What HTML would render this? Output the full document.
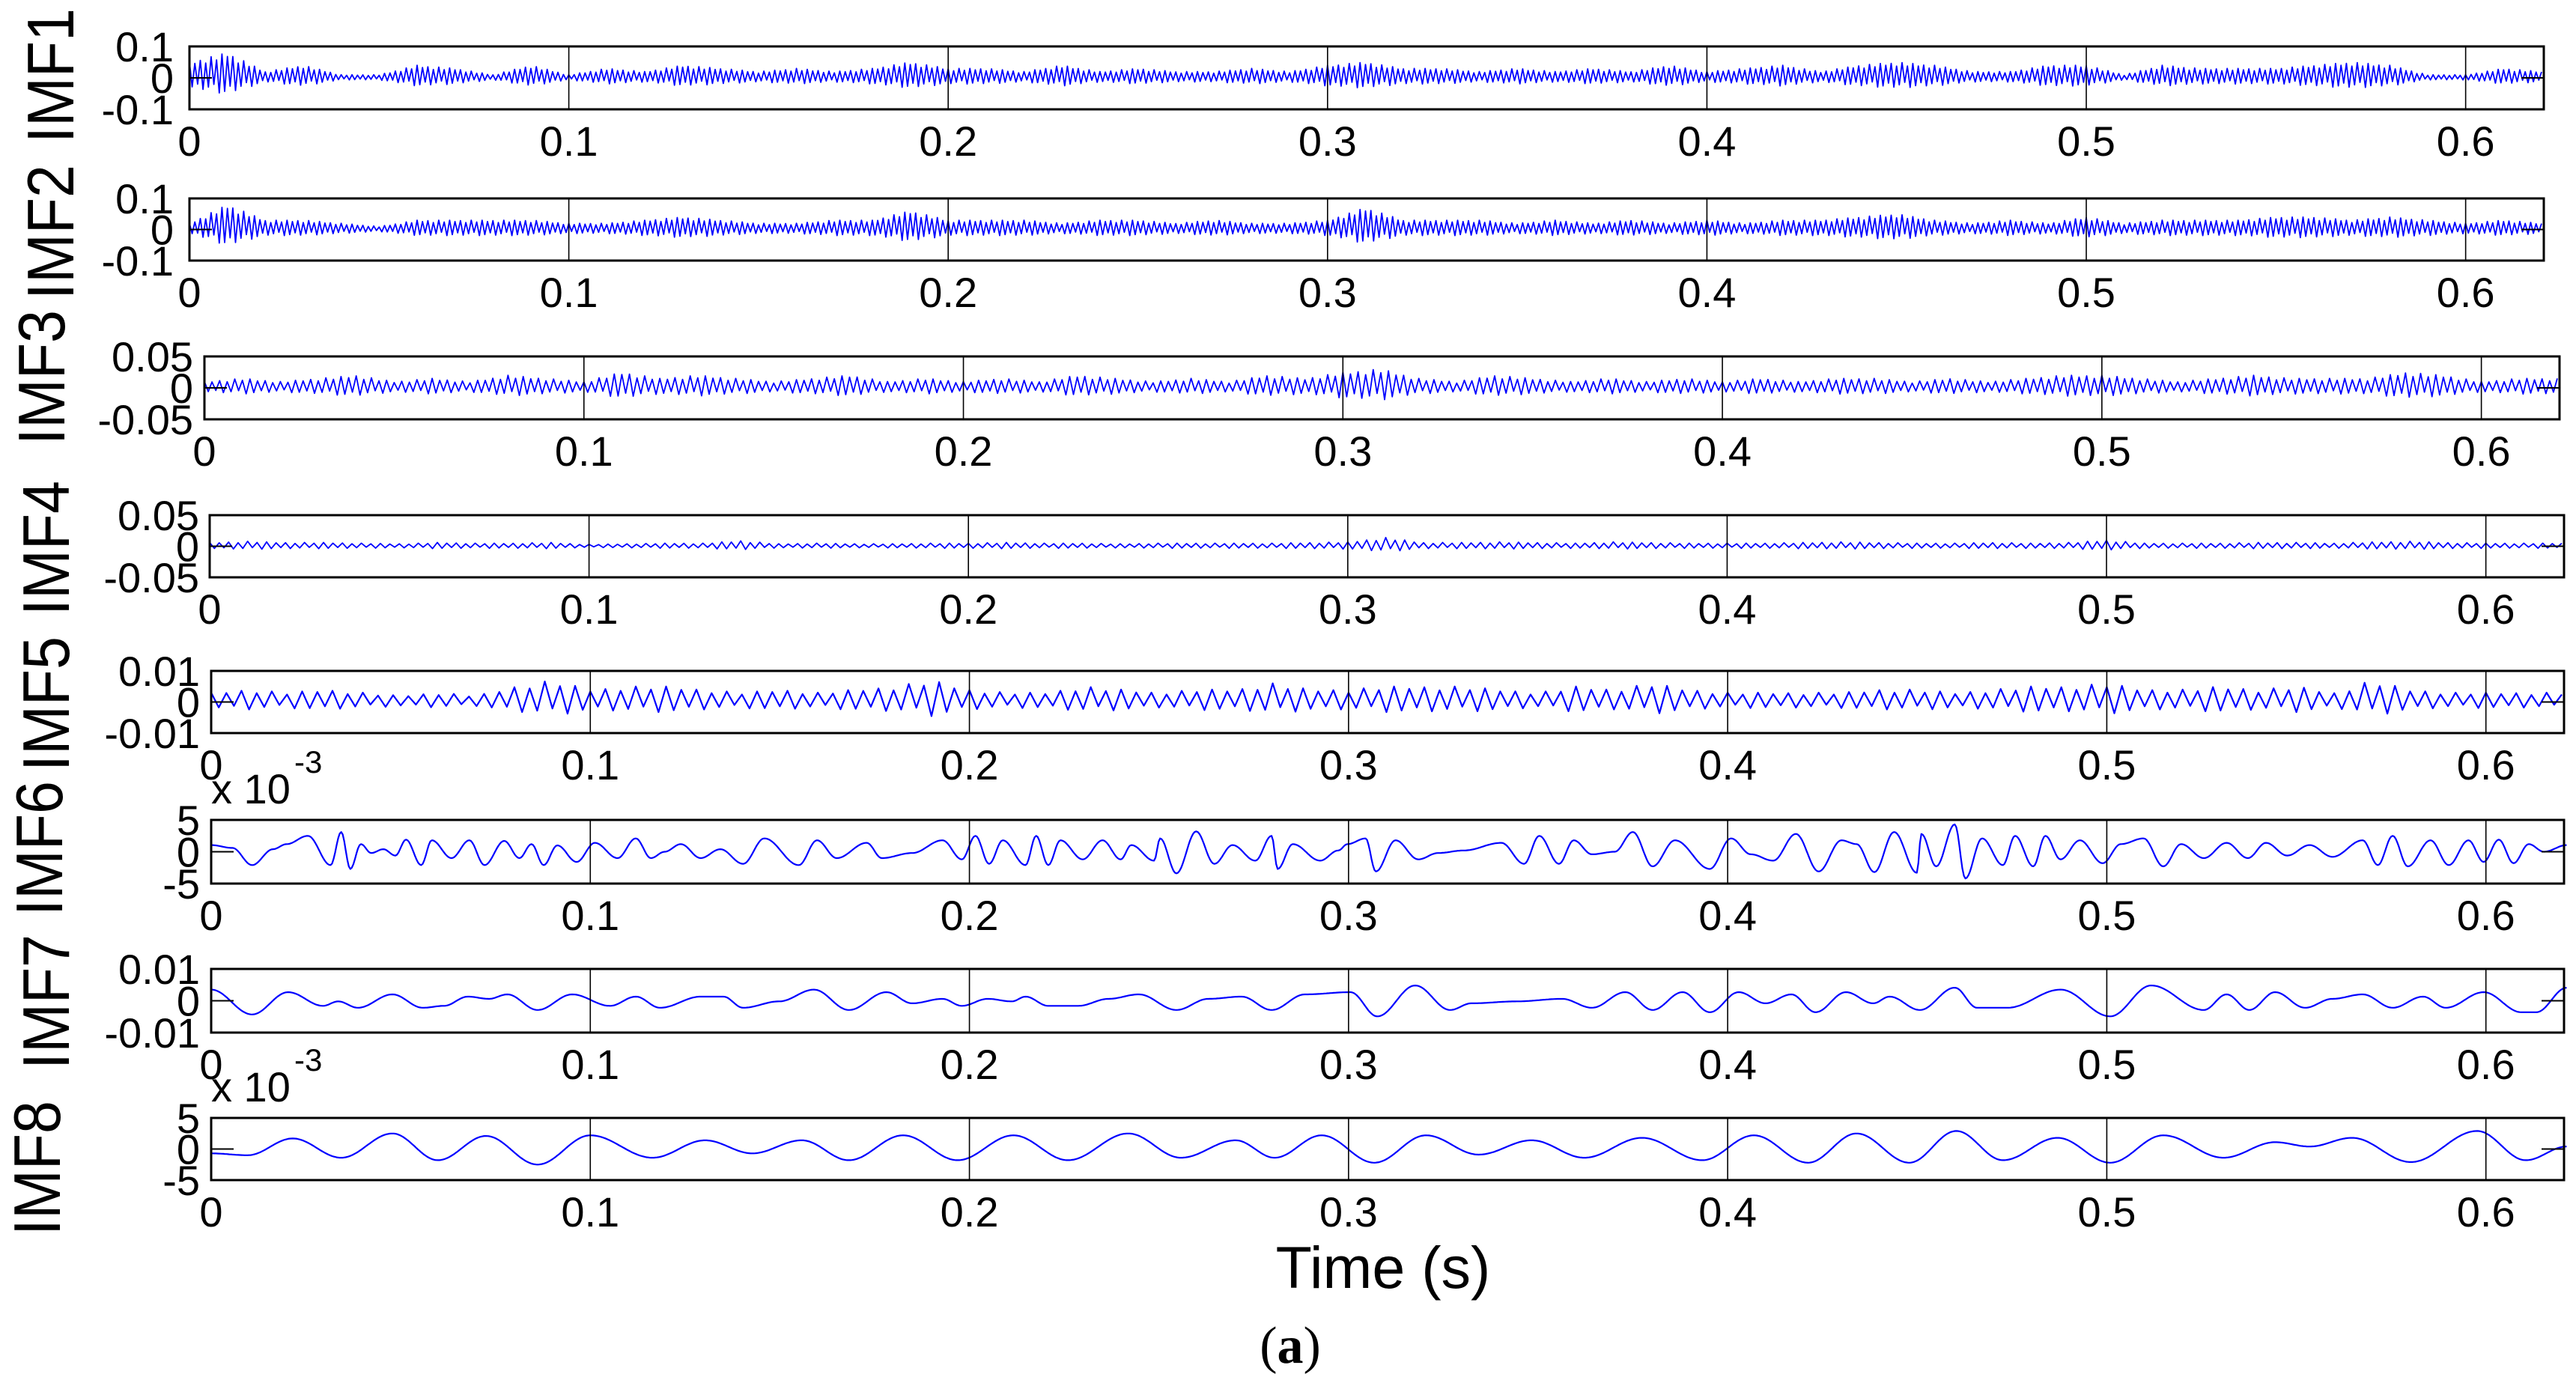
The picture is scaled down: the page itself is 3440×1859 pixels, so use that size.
<!DOCTYPE html>
<html><head><meta charset="utf-8"><style>
html,body{margin:0;padding:0;background:#fff;}
svg{display:block;}
text{font-family:"Liberation Sans",Arial,sans-serif;fill:#000;}
</style></head><body>
<svg id="fig" xmlns="http://www.w3.org/2000/svg" width="3440" height="1859" viewBox="0 0 3440 1859">
<rect x="0" y="0" width="3440" height="1859" fill="#fff"/>
<text x="1847" y="1720" font-size="79" text-anchor="middle">Time (s)</text>
<text x="1723" y="1820" font-size="70" text-anchor="middle" style="font-family:'Liberation Serif',serif">(<tspan font-weight="bold" style="font-family:'Liberation Serif',serif">a</tspan>)</text>
</svg>
<script>
// ---- data ----
const xTicks = [0, 0.1, 0.2, 0.3, 0.4, 0.5, 0.6];
const xTickLabels = ["0", "0.1", "0.2", "0.3", "0.4", "0.5", "0.6"];
const xMax = 0.6206;
const imfNames = ["IMF1","IMF2","IMF3","IMF4","IMF5","IMF6","IMF7","IMF8"];
const yLimits = [0.1, 0.1, 0.05, 0.05, 0.01, 5, 0.01, 5];
const yTickTop = ["0.1","0.1","0.05","0.05","0.01","5","0.01","5"];
const yTickBottom = ["-0.1","-0.1","-0.05","-0.05","-0.01","-5","-0.01","-5"];
// envelopes (per 0.01 s bin) for the broadband IMFs
const imf1Env = [0.05,0.08,0.02,0.04,0.01,0.01,0.04,0.03,0.01,0.04,0.01,0.03,0.02,0.04,0.03,0.02,0.03,0.02,0.03,0.05,0.03,0.03,0.02,0.04,0.02,0.03,0.02,0.02,0.03,0.02,0.04,0.05,0.03,0.03,0.02,0.03,0.02,0.03,0.02,0.04,0.02,0.03,0.04,0.02,0.04,0.05,0.04,0.02,0.02,0.04,0.04,0.01,0.04,0.03,0.03,0.03,0.04,0.05,0.04,0.01,0.01,0.03,0.02];
const imf2Env = [0.02,0.08,0.03,0.03,0.02,0.01,0.03,0.03,0.03,0.03,0.02,0.02,0.03,0.04,0.03,0.02,0.02,0.03,0.03,0.06,0.03,0.03,0.03,0.02,0.03,0.03,0.02,0.03,0.02,0.02,0.03,0.07,0.03,0.03,0.03,0.02,0.03,0.02,0.03,0.02,0.03,0.02,0.03,0.03,0.04,0.05,0.03,0.02,0.03,0.02,0.04,0.02,0.03,0.03,0.03,0.04,0.04,0.03,0.04,0.03,0.02,0.03,0.02];
const imf3Env = [0.01,0.015,0.01,0.015,0.02,0.01,0.015,0.01,0.02,0.015,0.01,0.025,0.015,0.02,0.015,0.01,0.015,0.02,0.01,0.015,0.01,0.015,0.01,0.02,0.015,0.01,0.015,0.01,0.02,0.015,0.025,0.03,0.015,0.01,0.02,0.015,0.01,0.015,0.01,0.015,0.01,0.015,0.01,0.015,0.015,0.01,0.015,0.01,0.015,0.02,0.02,0.015,0.01,0.015,0.02,0.015,0.015,0.015,0.025,0.02,0.01,0.015,0.015];
const imf4Env = [0.006,0.008,0.006,0.006,0.005,0.004,0.006,0.005,0.005,0.006,0.003,0.004,0.005,0.005,0.009,0.004,0.005,0.004,0.004,0.005,0.005,0.006,0.005,0.005,0.004,0.005,0.005,0.005,0.005,0.006,0.007,0.014,0.006,0.006,0.007,0.006,0.005,0.007,0.006,0.005,0.005,0.005,0.006,0.007,0.006,0.005,0.005,0.006,0.005,0.006,0.01,0.005,0.005,0.005,0.006,0.006,0.005,0.007,0.008,0.006,0.005,0.005,0.005];
const imf5Env = [0.003,0.004,0.003,0.004,0.003,0.002,0.003,0.002,0.005,0.007,0.004,0.005,0.005,0.004,0.003,0.004,0.003,0.004,0.005,0.007,0.004,0.003,0.003,0.005,0.004,0.003,0.004,0.004,0.006,0.004,0.004,0.005,0.005,0.005,0.004,0.003,0.005,0.004,0.006,0.004,0.003,0.003,0.003,0.003,0.004,0.004,0.003,0.004,0.005,0.005,0.006,0.004,0.004,0.005,0.004,0.005,0.003,0.007,0.004,0.003,0.003,0.003,0.003];
const halfCyclesPerBin = [14, 14, 10, 8, 5];
const texture = [1,0.55,0.85,0.35,0.95,0.6,0.75,0.45,1,0.3,0.8,0.65];
// extrema of the narrowband IMFs: times (ms) and values (x1e-3)
const imf6T = [0,5.6,10.8,16.3,19.9,25.5,31.5,34.3,36.7,39.5,42.2,45.4,48.6,51.4,55.4,58.2,63.4,68.1,72.1,77.3,81.3,84.5,87.7,91.3,96.4,101.2,107.2,112.0,116.0,119.6,123.9,129.1,134.3,140.3,145.9,155.0,159.8,165.0,172.9,176.9,184.9,192.9,198.0,201.6,205.2,208.8,214.8,217.6,220.8,224.0,229.9,235.1,239.9,242.7,248.7,250.3,254.6,259.8,264.6,269.4,275.4,279.7,281.3,285.3,292.5,297.3,299.7,304.5,307.2,312.4,318.4,323.6,330.4,340.3,346.3,350.3,355.5,359.4,364.2,370.2,375.0,380.2,386.1,395.3,400.9,406.1,412.0,418.0,424.0,430.0,434.0,438.7,443.9,449.9,451.1,455.0,459.9,462.7,467.1,472.6,475.8,480.6,483.8,487.8,492.9,498.9,503.7,509.7,514.9,519.6,525.6,531.6,537.2,542.0,547.6,553.5,559.5,567.5,571.5,575.4,579.4,585.4,590.2,595.4,599.4,603.4,607.3,611.3,615.3,621.3];
const imf6V = [1.05,0.6,-2.1,0.4,1.2,2.5,-2.1,3.1,-2.7,1.2,-0.2,0.4,-0.6,1.9,-2.1,1.8,-1.0,1.8,-2.1,1.7,-1.0,1.2,-2.1,1.0,-1.6,1.4,-1.0,2.1,-1.0,0.0,1.2,-1.0,0.4,-1.9,2.1,-2.1,1.8,-1.0,1.4,-1.0,-0.2,1.8,-1.2,2.5,-1.9,1.8,-2.1,2.5,-2.1,1.8,-1.2,1.8,-1.2,1.05,-1.4,2.1,-3.4,3.2,-1.9,1.05,-1.4,2.5,-2.7,1.2,-1.4,0.2,1.2,2.1,-3.1,1.8,-1.2,-0.2,0.2,1.4,-1.9,2.5,-1.9,1.8,-0.4,0.0,3.1,-2.3,1.8,-2.7,2.1,-0.4,-1.4,2.8,-3.1,1.8,1.2,-3.2,3.1,-3.3,2.8,-2.3,4.3,-4.2,2.1,-2.1,2.5,-2.3,2.5,-1.2,1.8,-1.8,1.2,2.1,-2.3,1.2,-1.0,1.4,-1.0,1.4,-0.6,1.05,-0.8,1.8,-2.1,2.5,-2.3,1.8,-2.1,1.8,-1.6,1.9,-1.8,1.2,0.0,1.05];
const imf7T = [0,10.8,20.3,29.5,33.5,38.7,47.8,55.8,61.4,67.7,73.3,78.1,86.1,95.2,105.2,112.0,118.4,129.1,135.1,140.3,149.8,159.0,168.2,178.1,184.9,192.9,198.0,204.8,211.2,214.8,220.8,228.7,236.7,244.7,254.6,263.0,271.8,279.7,288.5,300.5,307.6,317.6,326.8,332.4,344.3,356.3,364.2,373.0,380.2,388.1,395.3,402.9,410.0,416.8,423.2,431.2,438.4,442.7,450.7,459.9,465.8,473.8,487.8,500.9,511.7,525.6,531.6,537.6,544.4,552.3,559.5,567.5,575.4,583.4,589.4,599.4,609.3,613.3,621.3];
const imf7V = [3.5,-4.3,2.7,-1.6,-0.2,-2.2,2.0,-2.2,-1.6,1.3,0.6,2.0,-2.9,2.0,-1.6,1.3,-2.2,1.3,1.3,-2.2,-0.2,3.5,-2.9,2.7,-0.8,0.6,-1.6,0.6,-0.2,1.3,-1.6,-1.6,0.6,2.0,-2.9,0.6,1.3,-2.9,2.0,2.7,-4.9,4.8,-2.9,-0.8,-0.2,0.6,-2.2,2.7,-2.9,2.7,-3.6,2.7,-0.8,2.0,-3.6,2.7,-0.8,1.3,-2.9,4.1,-2.2,-2.2,3.5,-4.9,4.8,-2.9,2.0,-2.9,2.7,-2.2,0.6,2.0,-2.2,1.3,-2.2,2.7,-3.6,-3.6,4.1];
const imf8T = [0,9.6,21.5,34.3,47.8,59.8,72.5,86.1,100.0,116.4,130.3,142.7,155.8,168.2,182.5,196.9,211.6,226.0,241.9,255.8,270.2,280.5,292.9,306.8,320.4,334.3,348.3,362.2,377.4,393.3,406.9,421.2,434.0,447.9,460.3,472.6,487.0,500.9,514.9,530.8,544.4,553.5,564.7,580.2,597.7,610.5,621.3];
const imf8V = [-0.7,-1.0,1.7,-1.4,2.5,-1.8,2.1,-2.5,2.2,-1.4,1.4,-0.7,1.4,-1.8,2.2,-1.8,2.2,-1.8,2.5,-1.4,1.4,-1.4,2.2,-2.2,2.2,-0.9,1.4,-1.4,1.8,-1.8,2.2,-2.2,2.5,-2.2,2.9,-1.8,1.8,-2.2,2.2,-1.4,1.1,0.4,1.8,-2.1,2.9,-1.8,0.4];

// ---- layout ----
const boxes = [
 {l:253,r:3397,t:62,b:146,tickR:232,lx:98,ly:101},
 {l:253,r:3397,t:265,b:348,tickR:232,lx:98,ly:310},
 {l:273,r:3418,t:476,b:560,tickR:258,lx:86,ly:504},
 {l:280,r:3424,t:688,b:771,tickR:266,lx:92,ly:732},
 {l:282,r:3424,t:896,b:979,tickR:267,lx:92,ly:940},
 {l:282,r:3424,t:1095,b:1180,tickR:267,lx:83,ly:1133},
 {l:282,r:3424,t:1294,b:1379,tickR:267,lx:92,ly:1338},
 {l:282,r:3424,t:1493,b:1576,tickR:267,lx:80,ly:1560}
];
const NS = "http://www.w3.org/2000/svg";
const svg = document.getElementById("fig");
function mk(tag, attrs, parent){ const e=document.createElementNS(NS,tag); for(const k in attrs) e.setAttribute(k,attrs[k]); (parent||svg).appendChild(e); return e; }
function xScale(b,t){ return b.l + (t/xMax)*(b.r-b.l); }
function yScale(b,v,lim){ return (b.t+b.b)/2 - (v/lim)*(b.b-b.t)/2; }

const envs = [imf1Env, imf2Env, imf3Env, imf4Env, imf5Env];
const smoothT = [imf6T, imf7T, imf8T];
const smoothV = [imf6V, imf7V, imf8V];

boxes.forEach((b,i)=>{
  const g = mk("g",{});
  
  
  // signal
  const pts = [];
  const lim = yLimits[i];
  if(i<5){
    const env = envs[i], nh = halfCyclesPerBin[i];
    const total = Math.floor(xMax*100*nh);
    for(let k=0;k<=total;k++){
      const tb = k/nh; const j=Math.min(Math.floor(tb), env.length-2); const f=tb-j;
      const e = env[j]*(1-f)+env[j+1]*f;
      const v = e*texture[k%texture.length]*(k%2?-1:1);
      pts.push(xScale(b,k/(nh*100)).toFixed(1)+","+yScale(b,v,lim).toFixed(1));
    }
  } else {
    const T = smoothT[i-5], V = smoothV[i-5];
    const scl = (i===6)?1e-3:1;
    const n = Math.min(T.length,V.length);
    for(let j=0;j<n-1;j++){
      const x0=xScale(b,T[j]/1000), x1=xScale(b,T[j+1]/1000);
      const steps=Math.max(2,Math.round((x1-x0)/2));
      for(let s=0;s<steps;s++){
        const f=s/steps, c=(1-Math.cos(Math.PI*f))/2;
        const v=(V[j]*(1-c)+V[j+1]*c)*scl;
        pts.push((x0+(x1-x0)*f).toFixed(1)+","+yScale(b,v,lim).toFixed(1));
      }
    }
    pts.push(xScale(b,T[n-1]/1000).toFixed(1)+","+yScale(b,V[n-1]*scl,lim).toFixed(1));
  }
  const line = mk("polyline",{points:pts.join(" "),fill:"none",stroke:"#0000ff","stroke-width":(i<4?1.8:2.2),"stroke-linejoin":"round"},g);
  
  
  // tick lines
  xTicks.forEach((t,k)=>{
    const x=xScale(b,t);
    if(k>0){
      const tl = mk("line",{x1:x,x2:x,y1:b.t,y2:b.b,stroke:"#000","stroke-width":1.6},g);
      
      
    }
    const lab = mk("text",{x:x,y:b.b+62,"font-size":56,"text-anchor":"middle"},g);
    lab.textContent = xTickLabels[k];
    
    
  });
  const yc=(b.t+b.b)/2;
  mk("line",{x1:b.l,x2:b.l+30,y1:yc,y2:yc,stroke:"#000","stroke-width":2},g);
  mk("line",{x1:b.r-30,x2:b.r,y1:yc,y2:yc,stroke:"#000","stroke-width":2},g);
  // frame
  const fr = mk("rect",{x:b.l,y:b.t,width:b.r-b.l,height:b.b-b.t,fill:"none",stroke:"#000","stroke-width":3},g);
  
  
  // y tick labels
  [[yTickTop[i],b.t],["0",yc],[yTickBottom[i],b.b]].forEach(([s,y])=>{
    const yl = mk("text",{x:b.tickR,y:y+20,"font-size":56,"text-anchor":"end"},g);
    yl.textContent = s;
    
    
  });
  if(i===5||i===7){
    const ex = mk("text",{x:b.l,y:b.t-22,"font-size":56},g);
    ex.textContent = "x 10";
    
    
    const sup = mk("text",{x:b.l+111,y:b.t-63,"font-size":42},g);
    sup.textContent = "-3";
    
    
  }
  // IMF label
  const lbl = mk("text",{x:b.lx,y:b.ly,"font-size":88,"text-anchor":"middle",textLength:180,lengthAdjust:"spacingAndGlyphs",transform:"rotate(-90 "+b.lx+" "+b.ly+")"},g);
  lbl.textContent = imfNames[i];
  
  
});
</script>
</body></html>
